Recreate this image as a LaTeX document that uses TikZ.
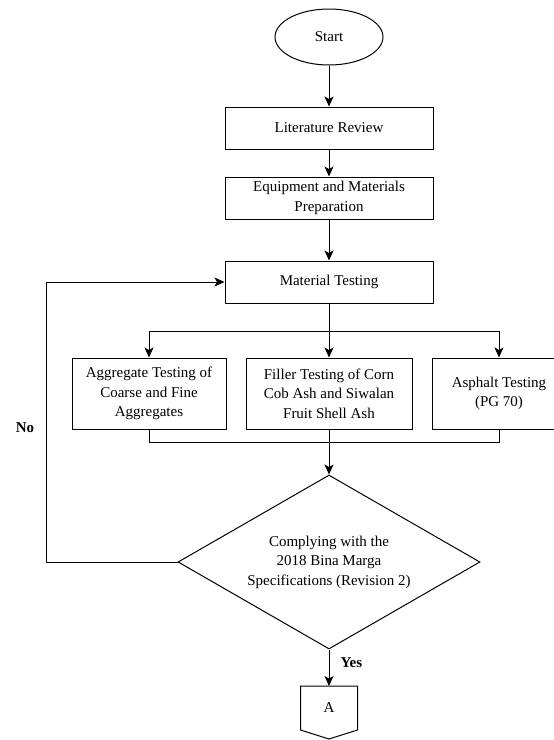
\documentclass[tikz,border=0pt]{standalone}
\usepackage{fontspec}
\setmainfont{Liberation Serif}
\usetikzlibrary{shapes.geometric,arrows.meta,positioning}
\tikzset{
  every node/.style={font=\fontsize{15}{19.5}\selectfont},
  procbox/.style={draw, line width=1pt, rectangle, align=center, inner sep=0pt},
  flow/.style={line width=1pt, -{Stealth[length=10pt,width=9pt,inset=2.5pt]}},
  plain/.style={line width=1pt},
  lbl/.style={font=\bfseries\fontsize{15}{18}\selectfont}
}
\begin{document}
\begin{tikzpicture}[x=1pt,y=-1pt]
\clip (0,0) rectangle (554,740);
\fill[white] (0,0) rectangle (554,740);
\node[draw, line width=1pt, ellipse, minimum width=108pt, minimum height=56pt, inner sep=0pt] (start) at (329,37) {Start};
\node[procbox, minimum width=208pt, minimum height=42pt] (lit) at (329,128) {Literature Review};
\node[procbox, minimum width=208pt, minimum height=42pt] (equip) at (329,198) {Equipment and Materials\\Preparation};
\node[procbox, minimum width=208pt, minimum height=42pt] (mat) at (329,282) {Material Testing};
\node[procbox, minimum width=154pt, minimum height=71pt] (agg) at (149,393.5) {Aggregate Testing of\\Coarse and Fine\\Aggregates};
\node[procbox, minimum width=166pt, minimum height=71pt] (fill) at (329,393.5) {Filler Testing of Corn\\Cob Ash and Siwalan\\Fruit Shell Ash};
\node[procbox, minimum width=134pt, minimum height=71pt] (asph) at (499,393.5) {Asphalt Testing\\(PG 70)};
\node[draw, line width=1pt, diamond, aspect=1.74, minimum width=302pt, minimum height=174pt, inner sep=0pt, align=center] (dia) at (329,562) {Complying with the\\2018 Bina Marga\\Specifications (Revision 2)};
\node[inner sep=0pt] (conn) at (329,708) {A};
\draw[line width=1pt] (300.5,686) -- (357.5,686) -- (357.5,730) -- (329,739) -- (300.5,730) -- cycle;
\coordinate (ctop) at (329,686);
\coordinate (br) at (329,331);
\coordinate (mg) at (329,442);
\coordinate (fbl) at (46,562);
\coordinate (fbt) at (46,282);
\draw[flow] (start) -- (lit);
\draw[flow] (lit) -- (equip);
\draw[flow] (equip) -- (mat);
\draw[plain] (mat.south) -- (br);
\draw[flow] (br) -| (agg.north);
\draw[flow] (br) -| (asph.north);
\draw[flow] (br) -- (fill.north);
\draw[plain] (agg.south) |- (mg);
\draw[plain] (asph.south) |- (mg);
\draw[flow] (fill.south) -- (dia.north);
\draw[flow] (dia.west) -- (fbl) -- (fbt) -- (mat.west);
\draw[flow] (dia.south) -- (ctop);
\node[lbl, anchor=west] (yes) at (337,663) {Yes};
\node[lbl] (no) at (25,428) {No};
\end{tikzpicture}
\end{document}
